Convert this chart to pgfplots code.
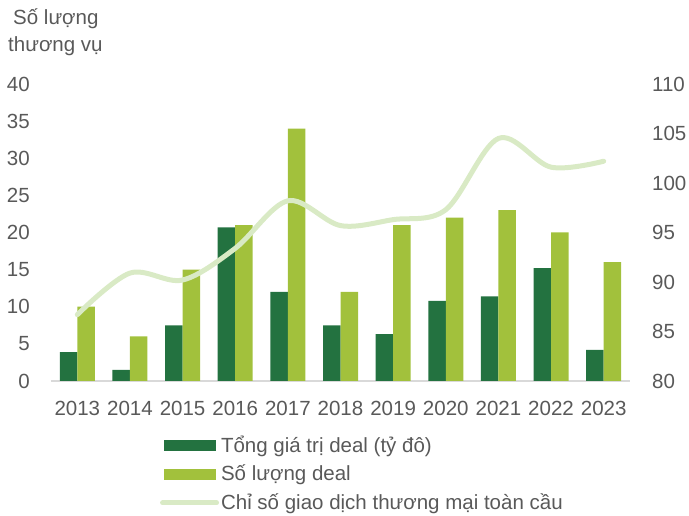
\documentclass[border=0pt]{standalone}
\usepackage{pgfplots}
\pgfplotsset{compat=1.18}
\usepackage{fontspec}
\setmainfont{Liberation Sans}
\definecolor{darkg}{HTML}{237240}
\definecolor{lightg}{HTML}{A2C13C}
\definecolor{lineg}{HTML}{D9EAC5}
\definecolor{txt}{HTML}{595959}
\definecolor{axl}{HTML}{D9D9D9}
\begin{document}
\fontsize{20.5}{24}\selectfont
\begin{tikzpicture}
\useasboundingbox (-51pt,-135pt) rectangle (638pt,381pt);
\begin{axis}[
  name=main,
  scale only axis, width=579pt, height=297pt,
  at={(0pt,0pt)}, anchor=south west,
  xmin=-0.5, xmax=10.5, ymin=0, ymax=40,
  xtick={0,...,10},
  xticklabels={2013,2014,2015,2016,2017,2018,2019,2020,2021,2022,2023},
  ytick={0,5,...,40},
  axis x line*=bottom, axis y line*=left,
  x axis line style={draw=axl, line width=1.5pt},
  y axis line style={draw=none},
  major tick length=0pt,
  /pgf/number format/assume math mode=true,
  ticklabel style={font=\fontsize{20.5}{24}\selectfont, text=txt},
  yticklabel style={anchor=east, inner sep=0pt, xshift=-21pt},
  xticklabel style={anchor=north, inner sep=0pt, yshift=-20pt},
  legend style={at={(axis description cs:0.188,-0.178)}, anchor=north west, draw=none, fill=none,
    font=\fontsize{20.5}{24}\selectfont, text=txt, cells={anchor=west}, row sep=5.5pt, inner sep=0pt},
  legend cell align=left,
]
\addplot[ybar, bar width=17.5pt, bar shift=-8.75pt, fill=darkg, draw=none,
  legend image code/.code={\fill[darkg] (0pt,-5.5pt) rectangle (52pt,5.5pt);}]
  coordinates {(0,3.9) (1,1.5) (2,7.5) (3,20.7) (4,12) (5,7.5) (6,6.3) (7,10.8) (8,11.4) (9,15.2) (10,4.2)};
\addlegendentry{Tổng giá trị deal (tỷ đô)}
\addplot[ybar, bar width=17.5pt, bar shift=8.75pt, fill=lightg, draw=none,
  legend image code/.code={\fill[lightg] (0pt,-5.5pt) rectangle (52pt,5.5pt);}]
  coordinates {(0,10) (1,6) (2,15) (3,21) (4,34) (5,12) (6,21) (7,22) (8,23) (9,20) (10,16)};
\addlegendentry{Số lượng deal}
\addlegendimage{legend image code/.code={\draw[lineg, line width=5pt, line cap=round] (-1pt,0pt) -- (53pt,0pt);}}
\addlegendentry{Chỉ số giao dịch thương mại toàn cầu}
\end{axis}
\begin{axis}[
  scale only axis, width=579pt, height=297pt,
  at={(0pt,0pt)}, anchor=south west,
  xmin=-0.5, xmax=10.5, ymin=80, ymax=110,
  ytick={80,85,...,110},
  hide x axis,
  axis y line*=right,
  y axis line style={draw=none},
  major tick length=0pt,
  /pgf/number format/assume math mode=true,
  ticklabel style={font=\fontsize{20.5}{24}\selectfont, text=txt},
  yticklabel style={anchor=west, inner sep=0pt, xshift=22pt},
]
\addplot[lineg, line width=5pt, smooth, tension=0.55, line cap=round]
  coordinates {(0,86.7) (1,90.9) (2,90.2) (3,93.4) (4,98.2) (5,95.7) (6,96.3) (7,97.3) (8,104.5) (9,101.6) (10,102.2)};
\end{axis}
\node[anchor=north west, align=left, inner sep=0pt, text=txt, font=\fontsize{20.5}{27}\selectfont]
  at ([xshift=-43pt, yshift=75pt]main.north west) {\hspace*{5pt}Số lượng\\thương vụ};
\end{tikzpicture}
\end{document}
